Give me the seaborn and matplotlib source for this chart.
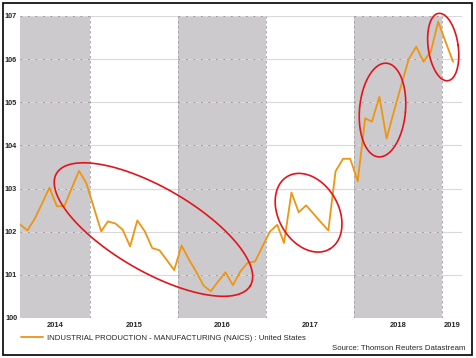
import numpy as np
import pandas as pd
import seaborn as sns
import matplotlib.pyplot as plt
import matplotlib.dates as mdates
from matplotlib.patches import Rectangle

# monthly index values, Mar 2014 - Feb 2019
months = pd.date_range('2014-03-01', periods=60, freq='MS') + pd.Timedelta(days=14)
values = [102.17, 102.03, 102.30, 102.66, 103.02, 102.59, 102.59, 103.00, 103.41, 103.13,
          102.57, 102.01, 102.24, 102.19, 102.05, 101.66, 102.26, 102.01, 101.62, 101.57,
          101.34, 101.11, 101.68, 101.35, 101.08, 100.75, 100.62, 100.85, 101.06, 100.76,
          101.08, 101.28, 101.31, 101.65, 102.00, 102.16, 101.74, 102.91, 102.45, 102.61,
          102.42, 102.22, 102.03, 103.40, 103.69, 103.69, 103.17, 104.63, 104.55, 105.13,
          104.16, 104.80, 105.40, 106.00, 106.29, 105.94, 106.18, 106.87, 106.40, 105.94]
series_label = 'INDUSTRIAL PRODUCTION - MANUFACTURING (NAICS) : United States'
years = [2014, 2015, 2016, 2017, 2018, 2019]
shaded_years = [2014, 2016, 2018]
y_ticks = [100, 101, 102, 103, 104, 105, 106, 107]
source = 'Source: Thomson Reuters Datastream'

sns.set_style('white')
plt.rcParams['font.family'] = ['Liberation Sans', 'DejaVu Sans']

fig = plt.figure(figsize=(4.76, 3.58), dpi=100)
ax = fig.add_axes([20 / 476, 40 / 358, 442 / 476, 302 / 358])

x0 = months[0]
x1 = pd.Timestamp('2019-03-24')
ax.set_xlim(x0, x1)
ax.set_ylim(100, 107)

# shaded years + year boundaries
for yr in years:
    start = max(pd.Timestamp(f'{yr}-01-01'), x0)
    end = min(pd.Timestamp(f'{yr + 1}-01-01'), x1)
    if yr in shaded_years:
        ax.axvspan(start, end, color='#cccacd', lw=0, zorder=0)
        for lv in y_ticks:
            ax.hlines(lv, start, end, color='#8c8c8c', lw=0.6, linestyles=(0, (2, 7)), zorder=1)
    if yr > years[0]:
        ax.axvline(pd.Timestamp(f'{yr}-01-01'), color='#a0a0a0', lw=0.6, ls=(0, (3, 3)), zorder=1)

for lv in y_ticks:
    ax.axhline(lv, color='#ddd6dd', lw=0.8, zorder=0.5)

sns.lineplot(x=months, y=values, color='#ee9512', lw=1.3, label=series_label, ax=ax, zorder=3)
handles, labels = ax.get_legend_handles_labels()
if ax.get_legend() is not None:
    ax.get_legend().remove()

# year labels centred on the visible part of each year
centers = []
for yr in years:
    start = max(pd.Timestamp(f'{yr}-01-01'), x0)
    end = min(pd.Timestamp(f'{yr + 1}-01-01'), x1)
    centers.append(start + (end - start) / 2)
ax.set_xticks(centers)
ax.set_xticklabels([str(y) for y in years], fontsize=5.4, fontweight='bold')
ax.set_yticks(y_ticks)
ax.set_yticklabels([str(v) for v in y_ticks], fontsize=5.3, fontweight='bold')
ax.tick_params(length=0, pad=3)
ax.tick_params(axis='y', pad=2)
ax.set_xlabel('')
ax.set_ylabel('')
sns.despine(ax=ax, left=True, bottom=True)


# hand-drawn style red rings
def ring(when, level, a, b, deg):
    cx, cy = ax.transData.transform((mdates.date2num(when), level))
    t = np.linspace(0, 2 * np.pi, 200)
    r = np.deg2rad(deg)
    px = cx + a * np.cos(t) * np.cos(r) - b * np.sin(t) * np.sin(r)
    py = cy + a * np.cos(t) * np.sin(r) + b * np.sin(t) * np.cos(r)
    pts = ax.transData.inverted().transform(np.column_stack([px, py]))
    ax.plot(pts[:, 0], pts[:, 1], color='#e3141b', lw=1.2, zorder=4, clip_on=False)


ring(pd.Timestamp('2015-09-20'), 102.05, 112, 42, -30)
ring(pd.Timestamp('2017-06-25'), 102.44, 42, 30, -60)
ring(pd.Timestamp('2018-04-28'), 104.82, 23, 47, -5)
ring(pd.Timestamp('2019-01-05'), 106.28, 15, 34, 8)

fig.legend(handles, labels, loc='center left', bbox_to_anchor=(21 / 476, 1 - 338 / 358),
           frameon=False, fontsize=5.6, handlelength=2.8, handletextpad=0.5, borderpad=0,
           borderaxespad=0)
fig.text(466 / 476, 1 - 349 / 358, source, ha='right', va='center', fontsize=5.6)

fig.patches.append(Rectangle((3 / 476, 3 / 358), 469 / 476, 352 / 358, transform=fig.transFigure,
                             fill=False, edgecolor='black', lw=1.2))

fig.savefig('out.png', dpi=100)
